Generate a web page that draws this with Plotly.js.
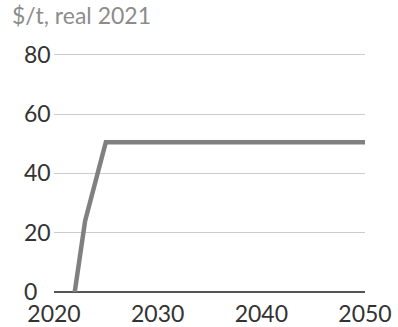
<!DOCTYPE html>
<html>
<head>
<meta charset="utf-8">
<script src="https://cdn.plot.ly/plotly-3.0.1.min.js"></script>
<style>html,body{margin:0;padding:0;background:#fff;}#chart{width:398px;height:327px;}</style>
</head>
<body>
<div id="chart"></div>
<script>
var years = [2022, 2023, 2025, 2050];
var price = [0, 24, 50.5, 50.5];
var yTicks = [0, 20, 40, 60, 80];
var xTicks = [2020, 2030, 2040, 2050];
var subtitle = "$/t, real 2021";

var W = 398, H = 327;
var yTop = 80.6;
var pxPerUnit = (292 - 54.5) / 80;
var mL = 20, mR = 33, mB = 35;
var mT = 292 - yTop * pxPerUnit;
var plotW = W - mL - mR;
var xStart = (54 - mL) / plotW;

var data = [{
  x: years, y: price, type: 'scatter', mode: 'lines',
  line: {color: '#808080', width: 4.5},
  cliponaxis: false, hoverinfo: 'skip'
}];

var layout = {
  width: W, height: H,
  margin: {l: mL, r: mR, t: mT, b: mB, pad: 0},
  paper_bgcolor: '#fff', plot_bgcolor: '#fff',
  font: {family: 'Lato, sans-serif', color: '#333', size: 23},
  showlegend: false,
  title: {text: subtitle, font: {family: 'Lato, sans-serif', size: 23, color: '#8c8c8c'},
    xref: 'container', x: 12 / W, xanchor: 'left', yref: 'container', y: 1 - 8 / H, yanchor: 'top'},
  xaxis: {domain: [xStart, 1], range: [2020, 2050], tickvals: xTicks, ticktext: xTicks.map(String),
    showgrid: false, zeroline: false, showline: false, ticks: '', ticklabelstandoff: 6,
    tickfont: {size: 23, color: '#333'}},
  yaxis: {range: [0, yTop], tickvals: yTicks, ticktext: yTicks.map(String),
    anchor: 'free', position: 0, side: 'right', ticks: '', ticklabelstandoff: 3,
    showgrid: true, gridcolor: '#cccccc', gridwidth: 1,
    zeroline: true, zerolinecolor: '#555', zerolinewidth: 1.5, showline: false,
    tickfont: {size: 23, color: '#333'}}
};

Plotly.newPlot('chart', data, layout, {displayModeBar: false, staticPlot: true});
</script>
</body>
</html>
